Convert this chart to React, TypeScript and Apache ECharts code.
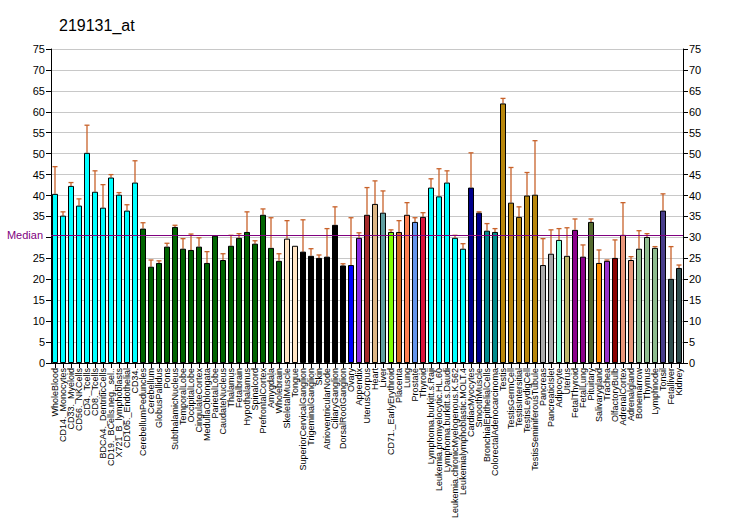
import React, { useEffect, useRef } from "react";
import * as echarts from "echarts";

const categories = [
  "WholeBlood", "CD14._Monocytes", "CD33._Myeloid", "CD56._NKCells", "CD4._Tcells", "CD8._Tcells",
  "BDCA4._DentriticCells", "CD19._BCells.neg._sel..", "X721_B_lymphoblasts", "CD105._Endothelial", "CD34.",
  "CerebellumPeduncles", "Cerebellum", "GlobusPallidus", "Pons", "SubthalamicNucleus", "TemporalLobe",
  "OccipitalLobe", "CingulateCortex", "MedullaOblongata", "ParietalLobe", "CaudateNucleus", "Thalamus",
  "Fetalbrain", "Hypothalamus", "Spinalcord", "PrefrontalCortex", "Amygdala", "Wholebrain",
  "SkeletalMuscle", "Tongue", "SuperiorCervicalGanglion", "TrigeminalGanglion", "Skin",
  "AtrioventricularNode", "CiliaryGanglion", "DorsalRootGanglion", "Ovary", "Appendix", "UterusCorpus",
  "Heart", "Liver", "CD71._EarlyErythroid", "Placenta", "Lung", "Prostate", "Thyroid",
  "Lymphoma.burkitt.s.Raji", "Leukemia.promyelocytic.HL.60", "Lymphoma.burkitt.s.Daudi",
  "Leukemia.chronicMyelogenous.K.562", "Leukemialymphoblastic.MOLT.4", "CardiacMyocytes", "SmoothMuscle",
  "BronchialEpithelialCells", "ColorectalAdenocarcinoma", "Testis", "TestisGermCell", "TestisIntersitial",
  "TestisLeydigCell", "TestisSeminiferousTubule", "Pancreas", "PancreaticIslet", "Adipocyte", "Uterus",
  "FetalThyroid", "FetalLung", "Pituitary", "Salivarygland", "Trachea", "OlfactoryBulb", "AdrenalCortex",
  "Adrenalgland", "Bonemarrow", "Thymus", "Lymphnode", "Tonsil", "Fetalliver", "Kidney",
];

const values = [
  40.4, 35.2, 42.3, 37.6, 50.2, 40.9, 37.1, 44.3, 40.2, 36.4, 43.1,
  32.1, 23.0, 23.9, 27.8, 32.5, 27.3, 27.0, 27.8, 23.9, 30.4, 24.6, 28.0, 29.9, 31.3, 28.5, 35.4, 27.5, 24.4,
  29.7, 28.0, 26.6, 25.6, 25.1, 25.4, 33.0, 23.3, 23.4, 29.9, 35.4, 38.0, 35.9, 31.3, 31.3, 35.4, 33.7, 34.9,
  41.9, 39.8, 43.1, 29.9, 27.3, 41.9, 35.9, 31.6, 31.3, 62.0, 38.3, 34.9, 40.0, 40.2, 23.4, 26.1, 29.4, 25.6,
  31.8, 25.4, 33.7, 23.9, 24.4, 25.1, 30.6, 24.6, 27.3, 30.1, 27.5, 36.4, 20.1, 22.7,
];

const errorTops = [
  46.9, 36.1, 43.1, 39.2, 56.8, 45.9, 42.6, 45.0, 40.7, 37.8, 48.3,
  33.5, 24.6, 24.4, 28.6, 32.9, 29.7, 30.8, 29.9, 26.6, 30.4, 26.1, 30.5, 30.9, 36.1, 29.2, 36.8, 34.7, 26.1,
  34.0, 28.0, 34.2, 27.3, 25.8, 32.1, 37.3, 23.7, 34.7, 31.1, 41.9, 43.5, 41.1, 31.8, 34.0, 38.3, 34.7, 35.9,
  44.0, 46.4, 45.9, 30.5, 28.5, 50.2, 36.1, 33.3, 32.1, 63.2, 46.7, 37.3, 45.5, 53.1, 29.7, 31.8, 32.1, 32.3,
  34.4, 28.2, 34.4, 27.0, 24.6, 29.4, 38.3, 25.4, 31.6, 30.9, 27.8, 40.4, 27.8, 23.4,
];

const medianValue = 30.55;
const yTicks = [0, 75, 5];

const barColors = [
  ...Array(11).fill("#00FFFF"),
  ...Array(18).fill("#006400"),
  "#FFE4C4", "#FFE4C4",
  ...Array(6).fill("#000000"),
  "#0000FF", "#8A2BE2", "#A52A2A", "#DEB887", "#5F9EA0", "#7FFF00", "#D2691E", "#FF7F50", "#6495ED", "#DC143C",
  ...Array(5).fill("#00FFFF"),
  "#00008B", "#00008B", "#008B8B", "#008B8B",
  ...Array(5).fill("#B8860B"),
  "#A9A9A9", "#A9A9A9", "#7FFFD4", "#BDB76B", "#8B008B", "#8B008B", "#556B2F", "#FF8C00", "#9932CC", "#8B0000",
  "#E9967A", "#E9967A", "#8FBC8F", "#8FBC8F", "#8FBC8F", "#483D8B", "#2F4F4F", "#2F4F4F",
];

const FONT = "Liberation Sans, Arial, sans-serif";
const ERR_COLOR = "#C8622A";

export default function App() {
  const ref = useRef<HTMLDivElement>(null);
  useEffect(() => {
    if (!ref.current) return;
    const chart = echarts.init(ref.current, null, { renderer: "svg" });
    const yAxisBase = {
      type: "value",
      min: yTicks[0],
      max: yTicks[1],
      interval: yTicks[2],
      axisLine: { show: true, lineStyle: { color: "#000", width: 1 } },
      axisTick: { show: true, length: 5, lineStyle: { color: "#000" } },
      splitLine: { show: true, lineStyle: { color: "#C8C8C8", width: 1 } },
    };
    chart.setOption({
      animation: false,
      backgroundColor: "#fff",
      title: {
        text: "219131_at",
        left: 54,
        top: 12,
        textStyle: { fontFamily: FONT, fontSize: 16, fontWeight: "normal", color: "#000" },
      },
      grid: { left: 51, right: 49, top: 49, bottom: 167, containLabel: false },
      xAxis: {
        type: "category",
        data: categories,
        boundaryGap: true,
        axisLine: { show: true, lineStyle: { color: "#000" } },
        axisTick: { show: true, alignWithLabel: true, interval: 0, length: 5, lineStyle: { color: "#000" } },
        axisLabel: {
          rotate: 90,
          interval: 0,
          fontSize: 9,
          fontFamily: FONT,
          color: "#000",
          margin: 5,
        },
      },
      yAxis: [
        {
          ...yAxisBase,
          position: "left",
          axisLabel: {
            fontSize: 11,
            fontFamily: FONT,
            color: "#000",
            margin: 6,
            formatter: (v: number) => (v === 30 ? "" : String(v)),
          },
        },
        {
          ...yAxisBase,
          position: "right",
          splitLine: { show: false },
          axisLabel: { fontSize: 11, fontFamily: FONT, color: "#000", margin: 6 },
        },
      ],
      series: [
        {
          type: "bar",
          yAxisIndex: 0,
          barWidth: 6,
          data: values.map((v, i) => ({
            value: v,
            itemStyle: { color: barColors[i], borderColor: "#000", borderWidth: 1 },
          })),
          markLine: {
            silent: true,
            symbol: "none",
            lineStyle: { color: "#800080", width: 1, type: "solid" },
            label: {
              show: true,
              position: "start",
              formatter: "Median",
              color: "#800080",
              fontFamily: FONT,
              fontSize: 11,
              distance: 8,
            },
            data: [{ yAxis: medianValue }],
          },
        },
        {
          type: "custom",
          yAxisIndex: 0,
          z: 1,
          data: values.map((v, i) => [i, v, errorTops[i]]),
          renderItem: (params: any, api: any) => {
            const i = api.value(0);
            const base = api.coord([i, api.value(1)]);
            const top = api.coord([i, api.value(2)]);
            if (Math.abs(base[1] - top[1]) < 0.5) return { type: "group", children: [] };
            const x = top[0];
            return {
              type: "group",
              children: [
                {
                  type: "line",
                  shape: { x1: x, y1: base[1], x2: x, y2: top[1] },
                  style: { stroke: ERR_COLOR, lineWidth: 1.3 },
                },
                {
                  type: "line",
                  shape: { x1: x - 2.5, y1: top[1], x2: x + 2.5, y2: top[1] },
                  style: { stroke: ERR_COLOR, lineWidth: 1.3 },
                },
              ],
            };
          },
        },
      ],
    });
    return () => chart.dispose();
  }, []);
  return (
    <div
      ref={ref}
      style={{ position: "fixed", left: 0, top: 0, width: 732, height: 530, background: "#fff" }}
    />
  );
}
